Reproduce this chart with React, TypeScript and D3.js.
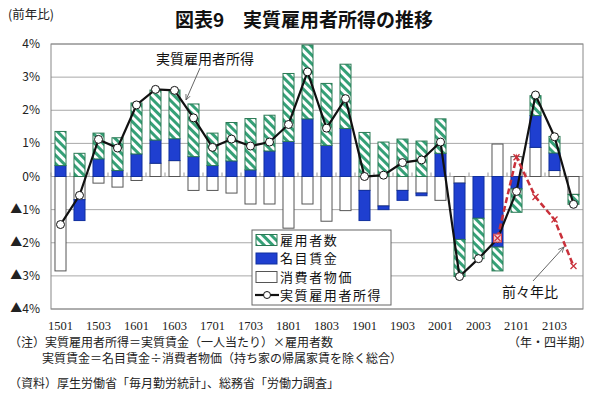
import React from "react";
import * as d3 from "d3";

const quarters = ["1501","1502","1503","1504","1601","1602","1603","1604","1701","1702","1703","1704","1801","1802","1803","1804","1901","1902","1903","1904","2001","2002","2003","2004","2101","2102","2103","2104"];
const tickLabels = ["1501","1503","1601","1603","1701","1703","1801","1803","1901","1903","2001","2003","2101","2103"];
const cpi = [-2.85,-0.70,-0.20,-0.32,-0.12,0.40,0.48,-0.42,-0.42,-0.50,-0.83,-0.83,-1.56,-0.83,-1.35,-1.03,-0.42,-0.89,-0.42,-0.50,-0.72,-0.20,0.0,0.98,0.60,0.88,0.18,-0.54];
const nominal = [0.33,-0.63,0.53,0.18,0.68,0.70,0.66,0.60,0.33,0.47,0.20,0.77,1.06,1.74,0.94,1.45,-0.91,-0.11,-0.30,-0.08,0.70,-1.70,-1.26,-2.13,-0.37,0.96,0.53,0.0];
const employees = [1.03,0.70,0.78,0.99,1.54,1.51,1.47,1.59,0.98,1.16,1.55,1.08,2.05,2.23,1.87,1.94,1.33,1.04,1.13,1.07,1.04,-1.12,-1.22,-0.72,-0.71,0.60,0.50,-0.30];
const realIncome = [-1.45,-0.57,1.12,0.86,2.16,2.63,2.60,1.77,0.88,1.13,0.92,1.04,1.57,3.16,1.46,2.35,0.00,0.04,0.42,0.50,1.04,-3.02,-2.48,-1.88,-0.45,2.46,1.20,-0.84];
const twoYearQuarters = ["2004","2101","2102","2103","2104"];
const twoYear = [-1.86,0.58,-0.62,-1.30,-2.70];
const yTicks = [4,3,2,1,0,-1,-2,-3,-4];

const W = 600, H = 416;
const L = 51, R = 583, T = 44, B = 309;
const jp = "'Noto Sans CJK JP', sans-serif";

export default function App() {
  const x = d3.scaleBand<string>().domain(quarters).range([L, R]).paddingInner(0.42).paddingOuter(0.21);
  const y = d3.scaleLinear().domain([-4, 4]).range([B, T]);
  const table = quarters.map((q, i) => ({ q, cpi: cpi[i], nominal: nominal[i], employees: employees[i] }));
  const stack = d3.stack<any>().keys(["cpi", "nominal", "employees"]).offset(d3.stackOffsetDiverging)(table);
  const cx = (q: string) => (x(q) as number) + x.bandwidth() / 2;
  const line = d3.line<number>().x((_, i) => cx(quarters[i])).y((d) => y(d));
  const line2 = d3.line<number>().x((_, i) => cx(twoYearQuarters[i])).y((d) => y(d));
  const fills: Record<string, string> = { cpi: "#ffffff", nominal: "#1f3fd0", employees: "url(#hatch)" };
  const strokes: Record<string, string> = { cpi: "#555", nominal: "#10309f", employees: "#2b7a55" };
  const step = x.step();
  const legendItems = ["雇用者数", "名目賃金", "消費者物価", "実質雇用者所得"];

  return (
    <svg width={W} height={H} style={{ position: "absolute", left: 0, top: 0, background: "#fff" }}>
      <defs>
        <pattern id="hatch" patternUnits="userSpaceOnUse" width="6" height="6" patternTransform="rotate(-45)">
          <rect width="6" height="6" fill="#fff" />
          <rect width="3" height="6" fill="#35a077" />
        </pattern>
        <marker id="arr" viewBox="0 0 10 10" refX="9" refY="5" markerWidth="7" markerHeight="7" orient="auto">
          <path d="M0,1 L9,5 L0,9" fill="none" stroke="#555" strokeWidth="1.2" />
        </marker>
      </defs>
      <text x={8} y={19} fontFamily={jp} fontSize={12.5} fill="#222">(前年比)</text>
      <text x={304} y={27} textAnchor="middle" fontFamily={jp} fontSize={19} fontWeight="bold" fill="#111">図表9　実質雇用者所得の推移</text>
      {yTicks.map((t) => (
        <g key={t}>
          <line x1={L} x2={R} y1={y(t)} y2={y(t)} stroke="#a8a8a8" strokeWidth={1} />
          <text x={40} y={y(t) + 4} textAnchor="end" fontFamily={jp} fontSize={12} fill="#222">
            {t < 0 ? "▲" + Math.abs(t) + "%" : t + "%"}
          </text>
        </g>
      ))}
      <rect x={L} y={T} width={R - L} height={B - T} fill="none" stroke="#888" strokeWidth={1} />
      {quarters.map((q, i) => (
        <line key={"tk" + q} x1={L + step * i} x2={L + step * i} y1={y(0)} y2={y(0) - 4} stroke="#999" strokeWidth={1} />
      ))}
      {stack.map((s) =>
        s.map((d, i) =>
          d[0] === d[1] ? null : (
            <rect key={s.key + i} x={x(quarters[i])} width={x.bandwidth()} y={y(Math.max(d[0], d[1]))}
              height={Math.abs(y(d[0]) - y(d[1]))} fill={fills[s.key]} stroke={strokes[s.key]} strokeWidth={1} />
          )
        )
      )}
      <path d={line(realIncome) || ""} fill="none" stroke="#111" strokeWidth={2.2} />
      {realIncome.map((v, i) => (
        <circle key={"c" + i} cx={cx(quarters[i])} cy={y(v)} r={4} fill="#fff" stroke="#111" strokeWidth={1} />
      ))}
      <path d={line2(twoYear) || ""} fill="none" stroke="#c9303a" strokeWidth={2.5} strokeDasharray="6,3" />
      {twoYear.map((v, i) => {
        const px = cx(twoYearQuarters[i]), py = y(v);
        return (
          <g key={"r" + i}>
            {i === 0 && <rect x={px - 4} y={py - 4} width={8} height={8} fill="#f4c6cc" stroke="#d04050" strokeWidth={1} />}
            <path d={`M${px - 3},${py - 3}L${px + 3},${py + 3}M${px - 3},${py + 3}L${px + 3},${py - 3}`} stroke="#c9303a" strokeWidth={1.3} />
          </g>
        );
      })}
      <text x={156} y={64} fontFamily={jp} fontSize={14} fill="#111">実質雇用者所得</text>
      <line x1={200} y1={68} x2={186} y2={100} stroke="#555" strokeWidth={0.9} markerEnd="url(#arr)" />
      <text x={502} y={297} fontFamily={jp} fontSize={14} fill="#111">前々年比</text>
      <line x1={533} y1={281} x2={564} y2={247} stroke="#555" strokeWidth={0.9} markerEnd="url(#arr)" />
      <g>
        <rect x={252} y={230} width={139} height={75} fill="#fff" stroke="#666" strokeWidth={1} />
        {legendItems.map((t, i) => {
          const yy = 239.5 + i * 18.5;
          return (
            <g key={t}>
              {i === 0 && <rect x={256} y={yy - 5} width={21} height={11} fill="url(#hatch)" stroke="#2b7a55" />}
              {i === 1 && <rect x={256} y={yy - 5} width={21} height={11} fill="#1f3fd0" stroke="#10309f" />}
              {i === 2 && <rect x={256} y={yy - 5} width={21} height={11} fill="#fff" stroke="#555" />}
              {i === 3 && (
                <g>
                  <line x1={255} x2={279} y1={yy} y2={yy} stroke="#111" strokeWidth={2.2} />
                  <circle cx={267} cy={yy} r={3.5} fill="#fff" stroke="#111" />
                </g>
              )}
              <text x={280} y={yy + 5} fontFamily={jp} fontSize={13} letterSpacing={1.6} fill="#111">{t}</text>
            </g>
          );
        })}
      </g>
      {tickLabels.map((t) => (
        <text key={"xl" + t} x={cx(t)} y={330} textAnchor="middle" fontFamily="'Liberation Serif', serif" fontSize={12.5} fill="#222">{t}</text>
      ))}
      <text x={9} y={347} fontFamily={jp} fontSize={12} fill="#222">（注）実質雇用者所得＝実質賃金（一人当たり）×雇用者数</text>
      <text x={592} y={347} textAnchor="end" fontFamily={jp} fontSize={12} fill="#222">（年・四半期）</text>
      <text x={42} y={363} fontFamily={jp} fontSize={12} fill="#222">実質賃金＝名目賃金÷消費者物価（持ち家の帰属家賃を除く総合）</text>
      <text x={9} y={388} fontFamily={jp} fontSize={12} fill="#222">（資料）厚生労働省「毎月勤労統計」、総務省「労働力調査」</text>
    </svg>
  );
}
